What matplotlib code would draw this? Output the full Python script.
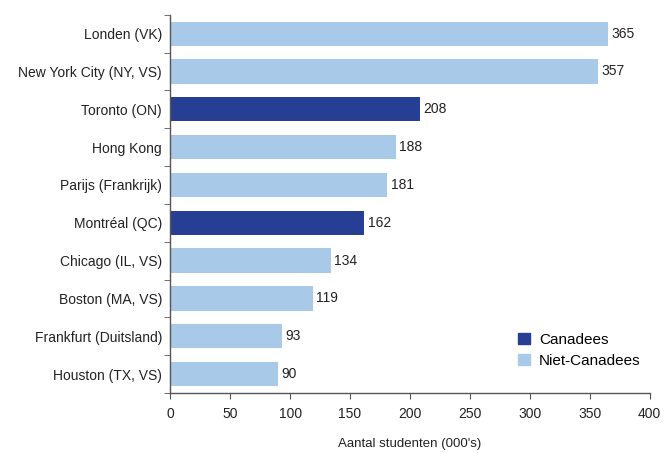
import numpy as np
import matplotlib.pyplot as plt
from matplotlib.patches import Patch

plt.rcParams['font.family'] = ['Liberation Sans', 'DejaVu Sans']

# --- Data ---
cities = ["Londen (VK)", "New York City (NY, VS)", "Toronto (ON)", "Hong Kong",
          "Parijs (Frankrijk)", "Montréal (QC)", "Chicago (IL, VS)", "Boston (MA, VS)",
          "Frankfurt (Duitsland)", "Houston (TX, VS)"]
students = [365, 357, 208, 188, 181, 162, 134, 119, 93, 90]
canadian = [False, False, True, False, False, True, False, False, False, False]
x_ticks = [0, 50, 100, 150, 200, 250, 300, 350, 400]

dark = '#263f94'
light = '#a9c9e9'
txt = '#222222'

fig = plt.figure(figsize=(6.65, 4.53), dpi=100)
ax = fig.add_axes([0.256, 0.1325, 0.721, 0.835])

y = np.arange(len(cities))[::-1]
colors = [dark if c else light for c in canadian]
ax.barh(y, students, height=0.64, color=colors, zorder=2)

for yi, v in zip(y, students):
    ax.text(v + 3, yi, str(v), va='center', ha='left', fontsize=10, color=txt)

ax.set_xlim(0, 400)
ax.set_ylim(-0.5, len(cities) - 0.5)
ax.set_xticks(x_ticks)
ax.set_xticklabels([str(t) for t in x_ticks], fontsize=10, color=txt)
ax.set_yticks(y)
ax.set_yticklabels(cities, fontsize=10, color=txt)
ax.tick_params(axis='y', length=0, pad=6)
ax.set_yticks(np.arange(-0.5, len(cities), 1.0), minor=True)
ax.tick_params(axis='y', which='minor', length=4, color='#555555')
ax.tick_params(axis='x', length=4, color='#555555', pad=6)

for s in ['top', 'right']:
    ax.spines[s].set_visible(False)
for s in ['left', 'bottom']:
    ax.spines[s].set_color('#555555')
    ax.spines[s].set_linewidth(1.0)

ax.set_xlabel("Aantal studenten (000's)", fontsize=9.5, color=txt, labelpad=12)

handles = [Patch(color=dark, label='Canadees'), Patch(color=light, label='Niet-Canadees')]
ax.legend(handles=handles, loc='lower right', bbox_to_anchor=(1.01, 0.03), frameon=False,
          fontsize=11, handlelength=0.8, handleheight=0.8, handletextpad=0.6, labelspacing=0.45)

fig.savefig('out.png', dpi=100)
